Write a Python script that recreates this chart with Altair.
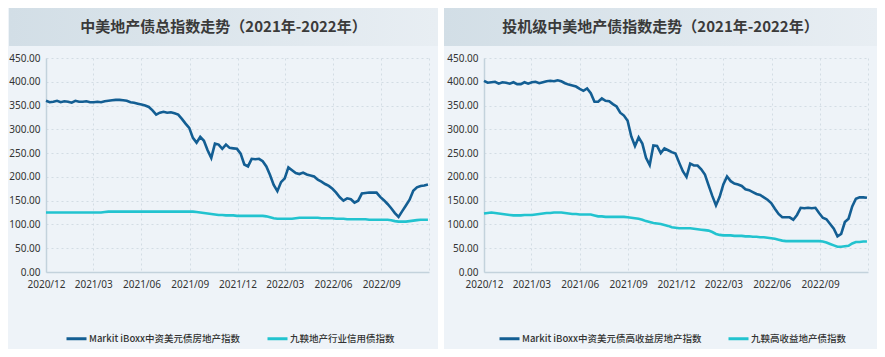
import altair as alt
import pandas as pd

# ---------------- data ----------------
n_weeks = 105
dates = pd.date_range("2020-12-01", periods=n_weeks, freq="7D").strftime("%Y-%m-%d").tolist()

quarters = [(2020, 12), (2021, 3), (2021, 6), (2021, 9), (2021, 12),
            (2022, 3), (2022, 6), (2022, 9), (2022, 12)]

left_title = "中美地产债总指数走势（2021年-2022年）"
right_title = "投机级中美地产债指数走势（2021年-2022年）"

left_names = ["Markit iBoxx中资美元债房地产指数", "九鞅地产行业信用债指数"]
right_names = ["Markit iBoxx中资美元债高收益房地产指数", "九鞅高收益地产债指数"]

left_dark = [
    360, 357, 358, 360, 357, 359, 358, 356, 360, 358,
    358, 359, 357, 357, 358, 357, 359, 360, 361, 362,
    362, 361, 360, 357, 356, 354, 352, 350, 347, 340,
    331, 335, 337, 335, 336, 334, 331, 322, 312, 303,
    282, 272, 284, 276, 256, 240, 270, 268, 259, 268,
    261, 260, 259, 249, 226, 222, 238, 237, 238, 233,
    222, 204, 183, 170, 189, 197, 220, 214, 208, 206,
    209, 205, 203, 201, 194, 190, 185, 181, 175, 167,
    157, 150, 155, 153, 146, 150, 165, 166, 167, 167,
    167, 158, 151, 143, 134, 124, 116, 128, 140, 152,
    171, 178, 181, 182, 184,
]
left_teal = [
    125, 125, 125, 125, 125, 125, 125, 125, 125, 125,
    125, 125, 125, 125, 125, 125, 126, 127, 127, 127,
    127, 127, 127, 127, 127, 127, 127, 127, 127, 127,
    127, 127, 127, 127, 127, 127, 127, 127, 127, 127,
    127, 126, 125, 124, 123, 122, 121, 120, 120, 119,
    119, 119, 118, 118, 118, 118, 118, 118, 118, 118,
    117, 115, 113, 112, 112, 112, 112, 112, 113, 114,
    114, 114, 114, 114, 114, 113, 113, 113, 113, 112,
    112, 112, 111, 111, 111, 111, 111, 111, 110, 110,
    110, 110, 110, 110, 109, 107, 106, 106, 106, 107,
    108, 109, 110, 110, 110,
]
right_dark = [
    402, 398, 399, 400, 396, 399, 398, 396, 399, 395,
    395, 399, 396, 399, 400, 397, 399, 401, 402, 401,
    403, 401, 397, 394, 392, 390, 385, 381, 386, 376,
    358, 358, 365, 360, 359, 353, 348, 335, 329, 318,
    285, 265, 283, 270, 240, 225, 266, 265, 250, 260,
    256, 252, 249, 230, 212, 200, 228, 224, 224, 216,
    205, 182, 160, 140, 158, 184, 201, 191, 186, 184,
    181, 174, 172, 168, 164, 162, 157, 152, 145, 133,
    122, 115, 115, 115, 110, 120, 135, 134, 135, 134,
    135, 124, 114, 111, 101, 91, 75, 80, 105, 112,
    138, 154, 157, 157, 156,
]
right_teal = [
    123, 124, 125, 124, 123, 122, 121, 120, 119, 119,
    119, 120, 120, 120, 121, 122, 123, 124, 124, 125,
    125, 125, 124, 123, 122, 122, 121, 121, 121, 121,
    119, 117, 117, 116, 116, 116, 116, 116, 116, 115,
    114, 113, 112, 110, 107, 105, 103, 102, 101, 99,
    97, 94, 93, 92, 92, 92, 92, 91, 90, 89,
    88, 87, 84, 80, 78, 77, 77, 77, 76, 76,
    76, 75, 75, 74, 74, 73, 73, 72, 71, 70,
    68, 66, 65, 65, 65, 65, 65, 65, 65, 65,
    65, 65, 64, 62, 59, 56, 53, 53, 54, 55,
    60, 63, 63, 64, 64,
]

# ---------------- style ----------------
DARK = "#135E93"
TEAL = "#22C3CF"
PANEL_BG = "#EEF3F8"
CJK = "Noto Sans CJK SC"
NUM = "Liberation Sans Narrow, Noto Sans, sans-serif"

PLOT_H = 214


def panel(title, names, dark, teal, width, left_off, band_right, legend_x, gap):
    df = pd.DataFrame({
        "date": dates + dates,
        "value": dark + teal,
        "series": [names[0]] * n_weeks + [names[1]] * n_weeks,
    })
    one = pd.DataFrame({"t": [title]})
    grad = alt.LinearGradient(
        gradient="linear",
        stops=[alt.GradientStop(color="#D2DEE6", offset=0),
               alt.GradientStop(color="#E8EEF3", offset=1)],
        x1=0, x2=1, y1=0, y2=0,
    )
    band = alt.Chart(one).mark_rect(color=grad).encode(
        x=alt.value(-left_off), x2=alt.value(band_right),
        y=alt.value(-50), y2=alt.value(-12),
    )
    center = (band_right - left_off) / 2
    ttl = alt.Chart(one).mark_text(
        font=CJK, fontSize=15, fontWeight="bold", color="#3A3A3A",
        align="center", baseline="middle",
    ).encode(x=alt.value(center), y=alt.value(-31), text="t:N")

    tick_vals = [alt.DateTime(year=y, month=m, date=1) for y, m in quarters]
    lines = alt.Chart(df).mark_line(strokeWidth=2.6).encode(
        x=alt.X(
            "date:T",
            scale=alt.Scale(domain=[tick_vals[0], tick_vals[-1]]),
            axis=alt.Axis(
                title=None, values=tick_vals, labelFlush=False,
                labelExpr="year(datum.value) == 2022 && month(datum.value) == 11 ? '' : timeFormat(datum.value, '%Y/%m')",
                labelPadding=7,
            ),
        ),
        y=alt.Y(
            "value:Q",
            scale=alt.Scale(domain=[0, 450], nice=False),
            axis=alt.Axis(title=None, values=list(range(0, 451, 50)), format=".2f",
                          labelPadding=6),
        ),
        color=alt.Color(
            "series:N",
            scale=alt.Scale(domain=names, range=[DARK, TEAL]),
            sort=names,
            legend=alt.Legend(
                title=None, orient="none", legendX=legend_x, legendY=269,
                direction="horizontal", symbolType="stroke", symbolStrokeWidth=3,
                symbolSize=400, labelFont=CJK, labelFontSize=9.5, labelColor="#333333",
                labelFontWeight=500, labelOffset=1, columnPadding=20, labelLimit=0,
            ),
        ),
    )
    layers = [band, ttl, lines]
    if gap:
        white = alt.Chart(one).mark_rect(color="white").encode(
            x=alt.value(band_right), x2=alt.value(band_right + 6),
            y=alt.value(-50), y2=alt.value(291),
        )
        layers.append(white)
    return alt.layer(*layers).properties(width=width, height=PLOT_H)


left = panel(left_title, left_names, left_dark, left_teal, 383, 37, 392, 19, True)
right = panel(right_title, right_names, right_dark, right_teal, 384, 40, 393, 14, False)

chart = alt.hconcat(left, right, spacing=0).resolve_scale(
    color="independent",
).resolve_legend(
    color="independent",
).configure(
    background=PANEL_BG, padding=0,
).configure_view(
    stroke=None,
).configure_axis(
    labelFont=NUM, labelFontSize=10, labelColor="#333333",
    domainColor="#C3D2DC", domainWidth=1.5,
    gridColor="#D3DCE4", gridDash=[2, 3], gridWidth=1,
    ticks=False,
)

chart.save("out.html", embed_options={"renderer": "svg", "actions": False})
